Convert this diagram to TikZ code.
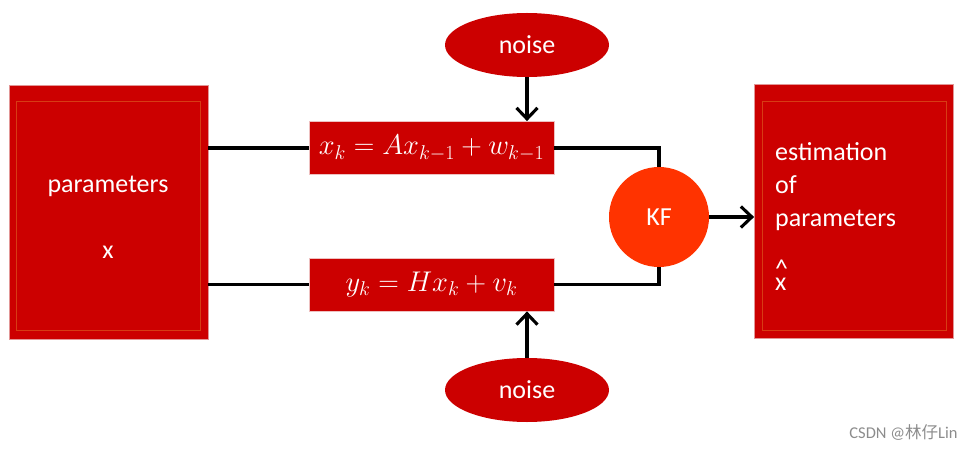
\documentclass[tikz,border=0pt]{standalone}
\usepackage{fix-cm}
\usepackage{fontspec}
\setmainfont{Carlito}
\newfontfamily\cjkfont{Noto Sans CJK SC}
\usetikzlibrary{arrows.meta,calc,shapes.geometric}
\definecolor{boxred}{RGB}{204,0,0}
\definecolor{kforange}{RGB}{255,51,0}
\definecolor{rimpink}{RGB}{226,150,150}
\definecolor{framecol}{RGB}{215,60,20}
\definecolor{markgray}{gray}{0.55}
\tikzset{
  bigbox/.style={draw=rimpink,fill=boxred,line width=0.8pt,minimum width=199pt,minimum height=254pt,inner sep=0pt},
  eqbox/.style={draw=rimpink!60,fill=boxred,line width=0.8pt,minimum width=245pt,minimum height=53pt,inner sep=0pt,text=white,font=\fontsize{28.5}{30}\selectfont},
  noisebox/.style={ellipse,fill=boxred,minimum width=164pt,minimum height=64pt,inner sep=0pt,text=white,font=\fontsize{26}{30}\selectfont},
  kfbox/.style={circle,fill=kforange,minimum size=100pt,inner sep=0pt,text=white,font=\fontsize{26}{28}\selectfont},
  innerframe/.style={draw=framecol,line width=0.5pt},
  wtxt/.style={text=white,font=\fontsize{26}{33}\selectfont,inner sep=0pt},
  wire/.style={line width=3.1pt,black},
  arr/.style={wire,-{Straight Barb[length=11pt,width=21pt,line width=3.1pt]}},
}
\begin{document}
\begin{tikzpicture}[x=1pt,y=-1pt]
  \useasboundingbox (0,0) rectangle (974,449);
  % blocks
  \node[bigbox] (params) at (108.5,212) {};
  \node[bigbox] (estim) at (854,211.5) {};
  \node[eqbox] (eqA) at (431.5,148) {$x_k = Ax_{k-1} + w_{k-1}$};
  \node[eqbox] (eqB) at (431.5,284.5) {$y_k = Hx_k + v_k$};
  \node[noisebox] (noiseA) at (527,45) {noise};
  \node[noisebox] (noiseB) at (527,390) {noise};
  \node[kfbox] (kf) at (659,217) {KF};
  \draw[innerframe] ($(params.north west)+(8,17)$) rectangle ($(params.south east)+(-8,-9)$);
  \draw[innerframe] ($(estim.north west)+(8,17)$) rectangle ($(estim.south east)+(-8,-9)$);
  % texts in the big boxes
  \node[wtxt,anchor=base] (parlbl) at (108,193) {parameters};
  \node[wtxt,anchor=base] (xlbl) at (108,258) {x};
  \node[wtxt,anchor=base west,align=left] (estlbl) at (775,226) {estimation\\of\\parameters};
  \node[wtxt,anchor=base west] (hatlbl) at (775,277.5) {\textasciicircum};
  \node[wtxt,anchor=base west] (xhatlbl) at (775,290) {x};
  % connectors
  \draw[wire] (eqA.west) -- (eqA.west -| params.east);
  \draw[wire] (eqB.west) -- (eqB.west -| params.east);
  \draw[wire] (eqA.east) -| (kf.north);
  \draw[wire] (eqB.east) -| (kf.south);
  \draw[arr] (noiseA.south) -- (noiseA.south |- eqA.north);
  \draw[arr] (noiseB.north) -- (noiseB.north |- eqB.south);
  \draw[arr] (kf.east) -- (kf.east -| estim.west);
  % watermark
  \node[text=markgray,font=\fontsize{16.5}{18}\selectfont,anchor=east] (mark) at (961,432) {CSDN @{\cjkfont 林仔}Lin};
\end{tikzpicture}
\end{document}
